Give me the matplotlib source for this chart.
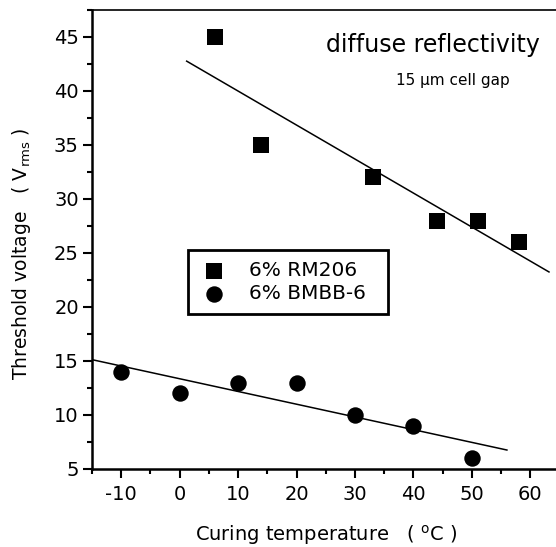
import numpy as np
import matplotlib.pyplot as plt
from matplotlib.ticker import MultipleLocator

# Curing temperature (C) and threshold voltage (V_rms)
rm206_temp = [6, 14, 33, 44, 51, 58]
rm206_volt = [45, 35, 32, 28, 28, 26]
bmbb_temp = [-10, 0, 10, 20, 30, 40, 50]
bmbb_volt = [14, 12, 13, 13, 10, 9, 6]

plt.rcParams["font.family"] = ["DejaVu Sans"]
plt.rcParams["axes.unicode_minus"] = False
plt.rcParams["mathtext.fontset"] = "dejavusans"

fig = plt.figure(figsize=(5.56, 5.47), dpi=100)
ax = fig.add_axes([92 / 556, 78 / 547, 1 - 92 / 556, (469 - 10) / 547])

ax.scatter(rm206_temp, rm206_volt, marker="s", s=120, color="black",
           label="6% RM206", zorder=3, linewidths=0)
ax.scatter(bmbb_temp, bmbb_volt, marker="o", s=140, color="black",
           label="6% BMBB-6", zorder=3, linewidths=0)

# linear fits
k1, b1 = np.polyfit(rm206_temp, rm206_volt, 1)
xs1 = np.array([1.2, 63.2])
ax.plot(xs1, k1 * xs1 + b1, color="black", lw=1.1)
k2, b2 = np.polyfit(bmbb_temp, bmbb_volt, 1)
xs2 = np.array([-15, 56])
ax.plot(xs2, k2 * xs2 + b2, color="black", lw=1.1)

ax.set_xlim(-15, 64.4)
ax.set_ylim(5, 47.5)
ax.xaxis.set_major_locator(MultipleLocator(10))
ax.xaxis.set_minor_locator(MultipleLocator(5))
ax.yaxis.set_major_locator(MultipleLocator(5))
ax.yaxis.set_minor_locator(MultipleLocator(2.5))
ax.tick_params(which="major", direction="out", length=6.5, width=1.5,
               labelsize=14)
ax.tick_params(axis="y", which="major", pad=3)
ax.tick_params(axis="x", which="major", pad=5)
ax.tick_params(which="minor", direction="out", length=3.5, width=1.5)
ax.spines["right"].set_visible(False)
for s in ["left", "bottom"]:
    ax.spines[s].set_linewidth(1.8)
ax.spines["top"].set_linewidth(1.2)

ax.set_xlabel("Curing temperature   ( $^{\\rm o}$C )", fontsize=14)
ax.xaxis.set_label_coords(0.506, -0.118)
ax.set_ylabel("Threshold voltage   ( V$_{\\rm rms}$ )", fontsize=13.5)
ax.yaxis.set_label_coords(-0.128, 0.468)

ax.text(0.9655, 0.924, "diffuse reflectivity", transform=ax.transAxes,
        fontsize=17, ha="right", va="center")
ax.text(0.901, 0.847, "15 \u03bcm cell gap", transform=ax.transAxes,
        fontsize=11, ha="right", va="center")

leg = ax.legend(loc="upper left", bbox_to_anchor=(0.207, 0.477, 0.431, 0),
                mode="expand", borderaxespad=0, frameon=True, fancybox=False,
                edgecolor="black", framealpha=1, fontsize=14.5,
                handletextpad=1.0, borderpad=0.55, labelspacing=0.2,
                handlelength=1.5, scatterpoints=1)
leg.get_frame().set_linewidth(2)

fig.savefig("out.png", dpi=100)
